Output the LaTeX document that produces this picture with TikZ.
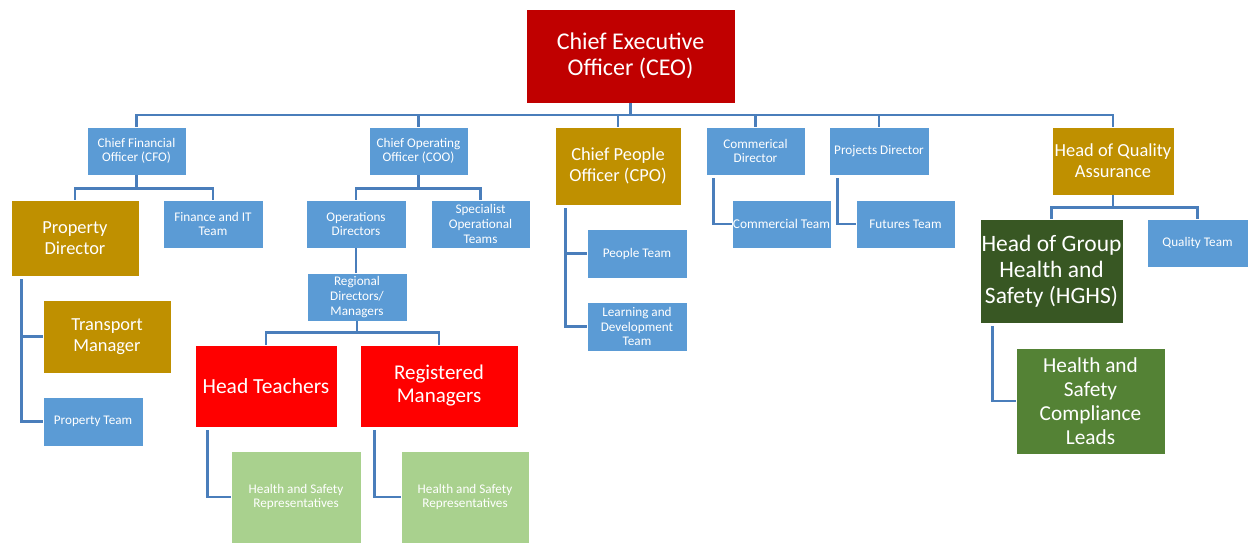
\documentclass[tikz,border=0pt]{standalone}
\usepackage{fontspec}
\setmainfont{Carlito}
\definecolor{nblue}{HTML}{5B9BD5}
\definecolor{ngold}{HTML}{BF9000}
\definecolor{nceo}{HTML}{C00000}
\definecolor{nred}{HTML}{FF0000}
\definecolor{nlgreen}{HTML}{A9D18E}
\definecolor{ndgreen}{HTML}{385723}
\definecolor{nmgreen}{HTML}{548235}
\definecolor{nline}{HTML}{4A7EBB}
\newcommand\orgbox[7]{\node[#1,minimum width={(#5-#3)*1pt},minimum height={(#6-#4)*1pt}] (#2) at ({(#3+#5)/2},{(#4+#6)/2}) {#7};}
\tikzset{
  box/.style={draw=white, line width=0.8pt, inner sep=0pt, align=center, text=white},
  sm/.style={box, fill=nblue, font=\fontsize{13.2}{14.6}\selectfont},
  md/.style={box, fill=ngold, font=\fontsize{18.4}{20.8}\selectfont},
  lg/.style={box, font=\fontsize{21.5}{26}\selectfont},
  conn/.style={draw=nline, line width=2.6pt}
}
\begin{document}
\begin{tikzpicture}[x=1pt,y=-1pt]
\useasboundingbox (0,0) rectangle (1251,544);
% top level
\orgbox{lg,fill=nceo,font=\fontsize{24}{26}\selectfont}{ceo}{526}{9}{735}{103}{Chief Executive\\Officer (CEO)}
\orgbox{sm}{cfo}{87}{127}{186}{175}{Chief Financial\\Officer (CFO)}
\orgbox{sm}{coo}{369}{127}{468}{175}{Chief Operating\\Officer (COO)}
\orgbox{md}{cpo}{555}{127}{681}{205}{Chief People\\Officer (CPO)}
\orgbox{sm}{cd}{706}{127}{805}{175}{Commerical\\Director}
\orgbox{sm}{prd}{829}{127}{929}{175}{Projects Director}
\orgbox{md}{hqa}{1052}{127}{1174}{195}{Head of Quality\\Assurance}
% CFO branch
\orgbox{md}{pd}{11}{200}{139}{276}{Property\\Director}
\orgbox{sm}{fit}{163}{200}{263}{248}{Finance and IT\\Team}
\orgbox{md}{tm}{43}{300}{171}{373}{Transport\\Manager}
\orgbox{sm}{pt}{43}{397}{143}{446}{Property Team}
% COO branch
\orgbox{sm}{ops}{306}{200}{406}{248}{Operations\\Directors}
\orgbox{sm}{sot}{431}{200}{530}{248}{Specialist\\Operational\\Teams}
\orgbox{sm}{rdm}{307}{273}{407}{321}{Regional\\Directors/\\Managers}
\orgbox{lg,fill=nred}{ht}{195}{345}{337}{427}{Head Teachers}
\orgbox{lg,fill=nred,font=\fontsize{21}{23}\selectfont}{rm}{360}{345}{518}{427}{Registered\\Managers}
\orgbox{sm,fill=nlgreen}{hsra}{231}{451}{361}{543}{Health and Safety\\Representatives}
\orgbox{sm,fill=nlgreen}{hsrb}{401}{451}{529}{543}{Health and Safety\\Representatives}
% CPO branch
\orgbox{sm}{peo}{587}{229}{687}{278}{People Team}
\orgbox{sm}{lnd}{587}{302}{687}{351}{Learning and\\Development\\Team}
% Commercial / Projects
\orgbox{sm,font=\fontsize{13.4}{15}\selectfont}{ct}{732}{200}{831}{248}{Commercial Team}
\orgbox{sm}{ft}{856}{200}{955}{248}{Futures Team}
% Quality branch
\orgbox{lg,fill=ndgreen,font=\fontsize{23.5}{26}\selectfont}{hghs}{980}{219}{1123}{323}{Head of Group\\Health and\\Safety (HGHS)}
\orgbox{sm}{qt}{1147}{219}{1248}{267}{Quality Team}
\orgbox{lg,fill=nmgreen,font=\fontsize{21.3}{24}\selectfont}{hscl}{1016}{348}{1165}{454}{Health and\\Safety\\Compliance\\Leads}
% connectors: CEO tree
\coordinate (bus) at (0,115);
\foreach \c in {cfo,coo,cpo,cd,prd,hqa}
  \draw[conn] (ceo.south) -- (ceo.south |- bus) -| (\c.north);
% CFO tree
\foreach \c in {pd,fit}
  \draw[conn] (cfo.south) -- ++(0,13) -| (\c.north);
% COO tree
\foreach \c in {ops,sot}
  \draw[conn] (coo.south) -- ++(0,13) -| (\c.north);
\draw[conn] (ops.south) -- (ops.south |- rdm.north);
\foreach \c in {ht,rm}
  \draw[conn] (rdm.south) -- ++(0,11) -| (\c.north);
% HQA tree
\foreach \c in {hghs,qt}
  \draw[conn] (hqa.south) -- ++(0,12) -| (\c.north);
% side connectors
\coordinate (pdv) at ([xshift=11pt,yshift=-3pt]pd.south west);
\draw[conn] (pdv) |- (tm.west);
\draw[conn] (pdv) |- (pt.west);
\coordinate (cpov) at ([xshift=11pt,yshift=-3pt]cpo.south west);
\draw[conn] (cpov) |- (peo.west);
\draw[conn] (cpov) |- (lnd.west);
\draw[conn] ([xshift=8pt,yshift=-3pt]cd.south west) |- (ct.west);
\draw[conn] ([xshift=9pt,yshift=-3pt]prd.south west) |- (ft.west);
\draw[conn] ([xshift=13pt,yshift=-3pt]ht.south west) |- (hsra.west);
\draw[conn] ([xshift=15pt,yshift=-3pt]rm.south west) |- (hsrb.west);
\draw[conn] ([xshift=13pt,yshift=-3pt]hghs.south west) |- (hscl.west);
\end{tikzpicture}
\end{document}
